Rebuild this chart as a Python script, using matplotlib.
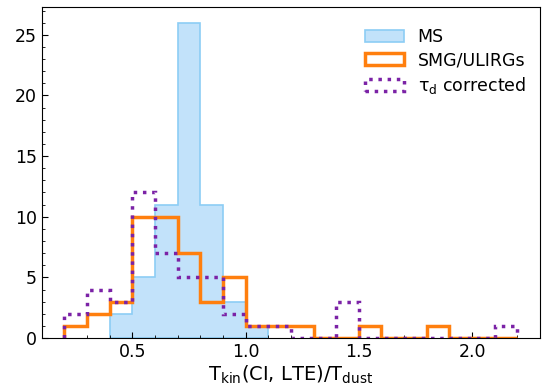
"""Histogram of Tkin(CI, LTE)/Tdust for MS and SMG/ULIRG samples."""
import matplotlib
matplotlib.use("Agg")
import matplotlib.pyplot as plt
import numpy as np
from matplotlib.ticker import MultipleLocator

# bin edges step 0.1 from 0.2 to 2.2
bin_left = np.round(np.arange(0.2, 2.2, 0.1), 1)
ms_counts = [0, 0, 2, 5, 11, 26, 11, 3, 1, 0, 0, 0, 0, 0, 0, 0, 0, 0, 0, 0]
smg_counts = [1, 2, 3, 10, 10, 7, 3, 5, 1, 1, 1, 0, 0, 1, 0, 0, 1, 0, 0, 0]
tau_counts = [2, 4, 3, 12, 7, 5, 5, 2, 1, 1, 0, 0, 3, 0, 0, 0, 0, 0, 0, 1]

edges = np.round(np.append(bin_left, 2.2), 1)
centers = bin_left + 0.05

fig = plt.figure(figsize=(5.43, 3.85), dpi=100)
ax = fig.add_axes([0.077, 0.122, 0.9175, 0.86])

ms_edges = edges[2:10]
ax.hist(centers[2:9], bins=ms_edges, weights=ms_counts[2:9], histtype="stepfilled",
        facecolor="#c2e2fa", edgecolor="#8ccdf5", linewidth=1.2, label="MS")
ax.hist(centers, bins=edges, weights=smg_counts, histtype="step",
        color="#ff7f0e", linewidth=2.5, label="SMG/ULIRGs")
ax.hist(centers, bins=edges, weights=tau_counts, histtype="step",
        color="#7b22a6", linewidth=2.5, linestyle=":", label="τ$_{\\rm d}$ corrected")

ax.set_xlim(0.1, 2.3)
ax.set_ylim(0, 27.3)
ax.xaxis.set_major_locator(MultipleLocator(0.5))
ax.xaxis.set_minor_locator(MultipleLocator(0.1))
ax.yaxis.set_major_locator(MultipleLocator(5))
ax.yaxis.set_minor_locator(MultipleLocator(1))
ax.tick_params(which="both", direction="in", labelsize=12.5)
ax.tick_params(which="major", length=4)
ax.tick_params(which="minor", length=2)
ax.set_xlabel(r"T$_{\rm kin}$(CI, LTE)/T$_{\rm dust}$", fontsize=14, labelpad=2)
ax.legend(loc="upper right", frameon=False, fontsize=12.5, labelspacing=0.3,
          handlelength=2.2, borderaxespad=0.6, bbox_to_anchor=(1.006, 0.988))

fig.savefig("out.png", dpi=100)
